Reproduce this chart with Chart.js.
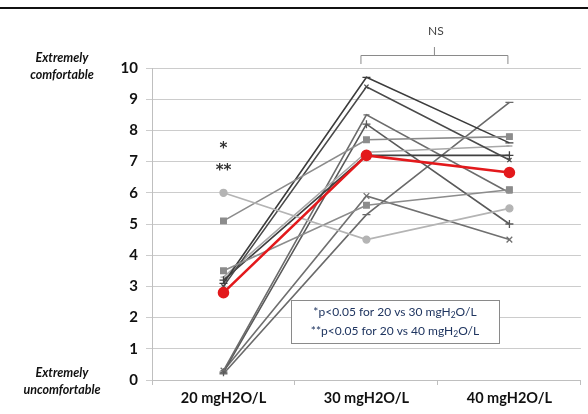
<!DOCTYPE html>
<html>
<head>
<meta charset="utf-8">
<script src="https://cdn.jsdelivr.net/npm/chart.js@4/dist/chart.umd.min.js"></script>
<style>
html,body{margin:0;padding:0;background:#fff;}
#wrap{width:588px;height:414px;position:relative;}
</style>
</head>
<body>
<div id="wrap"><canvas id="c" width="588" height="414"></canvas></div>
<script>
const categories = ['20 mgH2O/L', '30 mgH2O/L', '40 mgH2O/L'];
const yTicks = [0,1,2,3,4,5,6,7,8,9,10];
const meanSeries = [2.8, 7.2, 6.65];
const subjA = [6.0, 4.5, 5.5];
const subjB = [5.1, 7.7, 7.8];
const subjC = [3.5, 5.6, 6.1];
const subjD = [3.1, 9.7, 7.6];
const subjE = [3.0, 9.4, 7.05];
const subjF = [3.2, 7.2, 7.2];
const subjG = [3.3, 7.3, 7.5];
const subjH = [0.3, 8.5, 6.0];
const subjI = [0.25, 8.2, 5.0];
const subjJ = [0.3, 5.9, 4.5];
const subjK = [0.2, 5.3, 8.9];
const sigNote1 = '*p<0.05 for 20 vs 30 mgH';
const sigNote2 = '**p<0.05 for 20 vs 40 mgH';

function subj(data, color, style, r) {
  return {
    data: data, borderColor: color, backgroundColor: color,
    borderWidth: 1.6, pointStyle: style, pointRadius: r,
    pointBorderColor: color, pointBackgroundColor: color, pointBorderWidth: 1.3,
    tension: 0, order: 1
  };
}

const datasets = [
  {data: meanSeries, borderColor: '#e3191c', backgroundColor: '#e3191c',
   borderWidth: 2.6, pointStyle: 'circle', pointRadius: 4.5, pointBackgroundColor: '#e3191c',
   pointBorderColor: '#e3191c', order: 0},
  subj(subjA, '#b4b4b4', 'circle', 3.5),
  subj(subjB, '#8c8c8c', 'rect', 4),
  subj(subjC, '#8c8c8c', 'rect', 4),
  subj(subjD, '#3c3c3c', 'line', 4),
  subj(subjE, '#4a4a4a', 'crossRot', 3),
  subj(subjF, '#404040', 'cross', 4),
  subj(subjG, '#a8a8a8', 'line', 3),
  subj(subjH, '#6c6c6c', 'line', 3),
  subj(subjI, '#5a5a5a', 'cross', 4),
  subj(subjJ, '#707070', 'crossRot', 4),
  subj(subjK, '#6a6a6a', 'line', 4)
];

const extras = {
  id: 'extras',
  afterDatasetsDraw(chart) {
    const ctx = chart.ctx;
    const x = chart.scales.x, y = chart.scales.y;
    ctx.save();
    ctx.fillStyle = '#111';
    ctx.fillRect(0, 7, 588, 2);
    ctx.fillStyle = '#111';
    ctx.font = 'italic bold 12.5px Lato, "Open Sans", sans-serif';
    ctx.textAlign = 'center';
    ctx.textBaseline = 'middle';
    ctx.fillText('Extremely', 62, 58);
    ctx.fillText('comfortable', 62, 75);
    ctx.fillText('Extremely', 62, 373);
    ctx.fillText('uncomfortable', 62, 390);
    const x20 = x.getPixelForValue(0);
    ctx.fillStyle = '#333';
    ctx.font = 'bold 15px "DejaVu Sans", sans-serif';
    ctx.fillText('*', x20, y.getPixelForValue(7.4));
    ctx.fillText('**', x20, y.getPixelForValue(6.7));
    const x30 = x.getPixelForValue(1) - 6, x40 = x.getPixelForValue(2) - 2;
    const xm = (x30 + x40) / 2;
    ctx.strokeStyle = '#8a8a8a';
    ctx.lineWidth = 1;
    ctx.beginPath();
    ctx.moveTo(x30 + 0.5, 64); ctx.lineTo(x30 + 0.5, 55.5);
    ctx.lineTo(x40 + 0.5, 55.5); ctx.lineTo(x40 + 0.5, 64);
    ctx.moveTo(xm + 0.5, 55.5); ctx.lineTo(xm + 0.5, 47);
    ctx.stroke();
    ctx.fillStyle = '#444';
    ctx.font = '12px Lato, sans-serif';
    ctx.fillText('NS', xm + 2, 31);
    const bx = 291, by = 300, bw = 208, bh = 43;
    ctx.fillStyle = '#fff';
    ctx.fillRect(bx, by, bw, bh);
    ctx.strokeStyle = '#8a8a8a';
    ctx.strokeRect(bx + 0.5, by + 0.5, bw, bh);
    ctx.fillStyle = '#1f3560';
    const fm = '12px Lato, "Open Sans", sans-serif';
    const fs = '8.5px Lato, "Open Sans", sans-serif';
    function note(main, yy) {
      ctx.font = fm;
      const w1 = ctx.measureText(main).width;
      ctx.font = fs; const w2 = ctx.measureText('2').width;
      ctx.font = fm; const w3 = ctx.measureText('O/L').width;
      const total = w1 + w2 + w3;
      let sx = bx + bw / 2 - total / 2;
      ctx.textAlign = 'left';
      ctx.font = fm; ctx.fillText(main, sx, yy);
      ctx.font = fs; ctx.fillText('2', sx + w1, yy + 3);
      ctx.font = fm; ctx.fillText('O/L', sx + w1 + w2, yy);
    }
    note(sigNote1, 312);
    note(sigNote2, 331);
    ctx.restore();
  }
};

new Chart(document.getElementById('c'), {
  type: 'line',
  data: {labels: categories, datasets: datasets},
  options: {
    responsive: false,
    animation: false,
    devicePixelRatio: 1,
    layout: {padding: {top: 68, right: 0, left: 0, bottom: 0}},
    plugins: {legend: {display: false}, tooltip: {enabled: false}},
    scales: {
      x: {
        type: 'category',
        offset: true,
        grid: {display: true, drawOnChartArea: false, drawTicks: true, tickLength: 5, offset: true, color: '#bfbfbf'},
        border: {display: true, color: '#bfbfbf'},
        ticks: {color: '#111', padding: 5, font: {family: 'Lato, sans-serif', size: 14.5, weight: 'bold'}},
        afterFit(s) { s.height = 34; }
      },
      y: {
        min: 0, max: 10,
        afterBuildTicks(s) { s.ticks = yTicks.map(v => ({value: v})); },
        grid: {color: '#cccccc', lineWidth: 1, tickLength: 6, drawTicks: true},
        border: {display: true, color: '#bfbfbf'},
        ticks: {color: '#111', padding: 8, font: {family: 'Lato, sans-serif', size: 15, weight: 'bold'}},
        afterFit(s) { s.width = 152; }
      }
    }
  },
  plugins: [extras]
});
</script>
</body>
</html>
